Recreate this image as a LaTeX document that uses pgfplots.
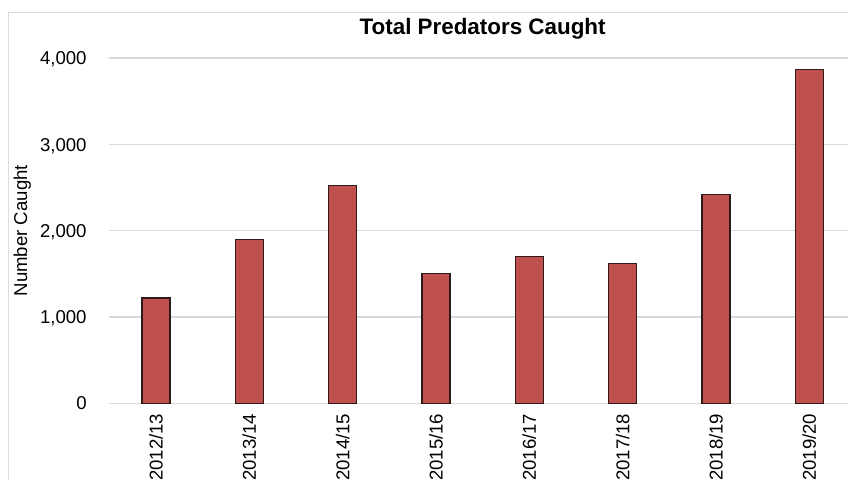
\documentclass[border=0pt]{standalone}
\usepackage{pgfplots}
\pgfplotsset{compat=1.18}
\usepackage{fontspec}
\setmainfont{Liberation Sans}
\definecolor{barred}{HTML}{C0504D}
\definecolor{baredge}{HTML}{2E1A1A}
\definecolor{gridgray}{HTML}{D9D9D9}
\definecolor{framegray}{HTML}{DCDCDC}
\begin{document}
\begin{tikzpicture}
\path[use as bounding box] (0,0) rectangle (424pt,239.5pt);
\clip (0,0) rectangle (424pt,239.5pt);
\draw[framegray, line width=0.6pt] (4.15pt,-2pt) -- (4.15pt,233.15pt) -- (430pt,233.15pt);
\begin{axis}[
  at={(54.65pt,37.85pt)}, anchor=south west,
  scale only axis,
  width=373.35pt, height=172.65pt,
  xmin=-0.5, xmax=7.5,
  ymin=0, ymax=4000,
  ytick={0,1000,2000,3000,4000},
  xtick={0,1,2,3,4,5,6,7},
  xticklabels={2012/13,2013/14,2014/15,2015/16,2016/17,2017/18,2018/19,2019/20},
  axis line style={draw=none},
  major tick length=0pt,
  ymajorgrids,
  grid style={gridgray, line width=0.65pt},
  /pgf/number format/assume math mode=true,
  /pgf/number format/.cd, 1000 sep={,}, /pgfplots/.cd,
  tick label style={font=\fontsize{9.3}{11}\selectfont},
  yticklabel style={anchor=base east, inner sep=0pt, yshift=-3.33pt},
  yticklabel shift=11.15pt,
  xticklabel style={rotate=90, anchor=east, inner sep=0pt},
  xticklabel shift=5pt,
  ylabel={Number Caught},
  ylabel style={at={(axis description cs:-0.1102,0.5)}, anchor=base, font=\fontsize{9.3}{11}\selectfont},
  title={Total Predators Caught},
  title style={at={(axis description cs:0.5,1.034)}, anchor=base, font=\fontsize{11.2}{13}\selectfont\bfseries},
  ybar, bar width=14pt,
]
\addplot[fill=barred, draw=baredge, line width=0.6pt] coordinates {
  (0,1220) (1,1900) (2,2520) (3,1500) (4,1700) (5,1620) (6,2420) (7,3865)
};
\end{axis}
\end{tikzpicture}
\end{document}
